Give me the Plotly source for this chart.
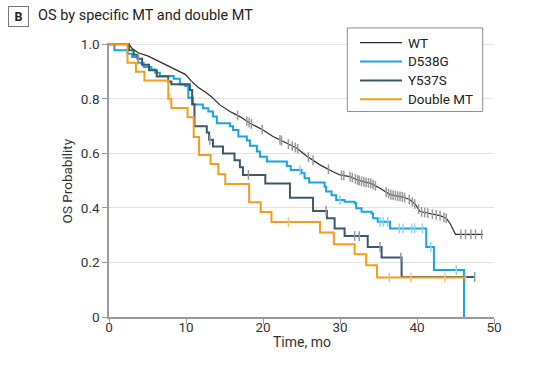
import numpy as np
import plotly.graph_objects as go

# ---------------- data ----------------
series_names = ["WT", "D538G", "Y537S", "Double MT"]

# WT: large cohort, many tiny steps -> drawn as a polyline through read points
wt_time = [0, 2.6, 3.0, 3.8, 5.1, 6.4, 7.7, 8.6, 9.9, 10.7, 11.6, 12.5, 13.3, 14.4, 15.7,
           17.0, 18.3, 20.0, 21.3, 23.1, 24.4, 25.7, 27.4, 29.1, 30.0, 31.3, 32.5, 34.0,
           35.2, 36.5, 38.2, 39.1, 39.8, 40.4, 41.5, 43.0, 43.8, 44.3, 44.7, 45.0, 48.6]
wt_surv = [1.0, 1.0, 0.985, 0.969, 0.957, 0.939, 0.92, 0.908, 0.89, 0.865, 0.842, 0.825,
           0.808, 0.778, 0.754, 0.735, 0.711, 0.686, 0.662, 0.637, 0.619, 0.59, 0.558,
           0.533, 0.521, 0.515, 0.50, 0.49, 0.472, 0.449, 0.44, 0.43, 0.412, 0.387, 0.38,
           0.372, 0.362, 0.343, 0.32, 0.303, 0.303]
wt_censor = [16.7, 17.9, 18.2, 18.5, 19.9, 22.2, 22.4, 23.3, 23.8, 24.2, 24.5, 25.9, 26.5,
             28.5, 30.2, 30.5, 31.3, 31.6, 32.0, 32.3, 32.5, 32.8, 33.1, 33.4, 33.7, 34.0,
             34.3, 34.6, 36.0, 36.3, 36.6, 36.9, 37.2, 37.5, 37.8, 38.1, 38.4, 39.0, 39.4,
             39.7, 40.2, 40.6, 41.0, 41.4, 42.0, 42.5, 43.0, 43.5, 43.8, 45.7, 46.3, 47.0,
             47.6, 48.4]

d538g_time = [0, 0.7, 2.4, 3.0, 3.8, 4.5, 5.5, 6.0, 6.6, 8.4, 9.2, 9.9, 10.3, 10.9, 12.2,
              12.9, 13.5, 14.0, 15.7, 16.1, 16.8, 17.9, 18.3, 19.2, 19.6, 20.5, 23.1, 23.6,
              25.0, 25.4, 26.0, 28.0, 28.2, 28.9, 29.5, 30.6, 31.9, 32.1, 32.8, 34.1, 34.3,
              34.9, 36.5, 41.2, 42.2, 46.1]
d538g_surv = [1.0, 0.978, 0.966, 0.954, 0.933, 0.917, 0.908, 0.896, 0.884, 0.874, 0.853,
              0.847, 0.804, 0.779, 0.766, 0.754, 0.735, 0.711, 0.70, 0.686, 0.662, 0.647,
              0.628, 0.607, 0.588, 0.57, 0.554, 0.539, 0.527, 0.509, 0.493, 0.478, 0.46,
              0.447, 0.429, 0.423, 0.417, 0.399, 0.386, 0.38, 0.362, 0.349, 0.325, 0.257,
              0.172, 0.0]
d538g_censor = [24.8, 30.0, 35.2, 35.6, 36.2, 37.7, 38.2, 39.3, 39.7, 40.7, 41.8, 45.1]

y537s_time = [0, 2.6, 3.2, 3.7, 4.3, 5.2, 6.2, 7.7, 8.1, 10.5, 10.8, 11.1, 12.7, 13.0,
              13.5, 14.8, 16.3, 17.0, 17.4, 20.3, 23.5, 26.5, 28.3, 29.3, 30.6, 33.6, 35.4,
              38.0, 47.5]
y537s_surv = [1.0, 0.978, 0.962, 0.947, 0.925, 0.905, 0.882, 0.864, 0.854, 0.833, 0.78,
              0.70, 0.677, 0.65, 0.625, 0.60, 0.575, 0.549, 0.521, 0.49, 0.4375, 0.389,
              0.362, 0.325, 0.297, 0.257, 0.218, 0.147, 0.147]
y537s_censor = [3.8, 13.1, 18.1, 28.2, 31.9, 32.5, 35.2, 37.9, 47.5]

double_time = [0, 2.4, 3.5, 4.6, 7.7, 8.1, 10.2, 11.0, 11.7, 13.2, 14.2, 15.1, 18.2, 19.7,
               21.1, 27.4, 29.2, 31.9, 33.4, 34.8, 46.3]
double_surv = [1.0, 0.933, 0.90, 0.867, 0.80, 0.767, 0.733, 0.66, 0.594, 0.561, 0.524,
               0.488, 0.421, 0.385, 0.348, 0.31, 0.267, 0.23, 0.19, 0.145, 0.145]
double_censor = [7.9, 23.3, 36.4, 39.2, 43.6, 46.3]

x_ticks = [0, 10, 20, 30, 40, 50]
y_ticks = [0, 0.2, 0.4, 0.6, 0.8, 1.0]
y_tick_labels = ["0", "0.2", "0.4", "0.6", "0.8", "1.0"]

# ---------------- styling ----------------
line_colors = ["#2b2b2b", "#1aa3e0", "#3d5868", "#f59c1a"]
censor_colors = ["#9a9a9a", "#8fd3f2", "#8c9ca7", "#f7c37a"]
line_widths = [1.2, 2.0, 2.0, 2.0]
FONT = "Roboto, Liberation Sans, Arial, sans-serif"


def step_value(times, surv, t):
    i = np.searchsorted(np.asarray(times), t, side="right") - 1
    return np.asarray(surv)[i]


fig = go.Figure()

curves = [
    (wt_time, wt_surv, wt_censor, "linear"),
    (d538g_time, d538g_surv, d538g_censor, "hv"),
    (y537s_time, y537s_surv, y537s_censor, "hv"),
    (double_time, double_surv, double_censor, "hv"),
]

for k, (tt, ss, cc, shape) in enumerate(curves):
    fig.add_trace(go.Scatter(
        x=tt, y=ss, mode="lines", name=series_names[k],
        line=dict(color=line_colors[k], width=line_widths[k], shape=shape),
        showlegend=False, hoverinfo="skip"))

for k, (tt, ss, cc, shape) in enumerate(curves):
    if shape == "linear":
        cy = np.interp(cc, tt, ss)
    else:
        cy = [step_value(tt, ss, c) for c in cc]
    fig.add_trace(go.Scatter(
        x=cc, y=cy, mode="markers", showlegend=False, hoverinfo="skip",
        marker=dict(symbol="line-ns-open", size=7, color=censor_colors[k],
                    line=dict(color=censor_colors[k], width=1.5)),
        cliponaxis=False))

# ---------------- layout ----------------
L, R, T, B = 109, 50, 43.3, 48.3
W, H = 544, 365
pw, ph = W - L - R, H - T - B


def px_x(px):
    return (px - L) / pw


def px_y(py):
    return (H - B - py) / ph


fig.update_layout(
    width=W, height=H,
    margin=dict(l=L, r=R, t=T, b=B, pad=0, autoexpand=False),
    plot_bgcolor="white", paper_bgcolor="white",
    font=dict(family=FONT, size=13, color="#333333"),
    xaxis=dict(range=[0, 50], tickvals=x_ticks, ticks="outside", ticklen=5,
               tickcolor="#9a9a9a", tickwidth=1.2, showline=True, linecolor="#9a9a9a",
               linewidth=1.5, showgrid=False, zeroline=False, ticklabelstandoff=-8,
               tickfont=dict(size=13.5, color="#333333")),
    yaxis=dict(range=[0, 1.005], tickvals=y_ticks, ticktext=y_tick_labels,
               ticks="outside", ticklen=5, tickcolor="#9a9a9a", tickwidth=1.2,
               showline=True, linecolor="#9a9a9a", linewidth=1.5,
               showgrid=True, gridcolor="#e4e4e4", gridwidth=1, zeroline=False,
               tickfont=dict(size=13.5, color="#333333")),
    showlegend=False,
)

# ---- legend box drawn in paper coordinates ----
leg_left, leg_right, leg_top, leg_bottom = 347.3, 482.7, 28.3, 111.7
row_y = [42.9, 61.7, 80.6, 99.4]
fig.add_shape(type="rect", xref="paper", yref="paper",
              x0=px_x(leg_left), x1=px_x(leg_right), y0=px_y(leg_bottom), y1=px_y(leg_top),
              line=dict(color="#8a8a8a", width=1), fillcolor="white", layer="above")
for k, name in enumerate(series_names):
    fig.add_shape(type="line", xref="paper", yref="paper",
                  x0=px_x(360), x1=px_x(402), y0=px_y(row_y[k]), y1=px_y(row_y[k]),
                  line=dict(color=line_colors[k], width=line_widths[k]), layer="above")
    fig.add_annotation(text=name, xref="paper", yref="paper",
                       x=px_x(405.5), y=px_y(row_y[k]), xanchor="left", yanchor="middle",
                       showarrow=False, font=dict(size=13.5, color="#222222"))

fig.add_annotation(text="<b>B</b>", xref="paper", yref="paper",
                   x=px_x(18.8), y=px_y(17.3), xanchor="center", yanchor="middle",
                   showarrow=False, bordercolor="#777777", borderwidth=1,
                   width=17, height=17, font=dict(size=12.5, color="#222222"))
fig.add_annotation(text="OS by specific MT and double MT", xref="paper", yref="paper",
                   x=px_x(35.5), y=px_y(16.0), xanchor="left", yanchor="middle",
                   showarrow=False, font=dict(size=14.5, color="#222222"))
fig.add_annotation(text="Time, mo", xref="paper", yref="paper",
                   x=px_x(301.7), y=px_y(342), xanchor="center", yanchor="middle",
                   showarrow=False, font=dict(size=14, color="#333333"))
fig.add_annotation(text="OS Probability", xref="paper", yref="paper",
                   x=px_x(66.7), y=px_y(180.7), xanchor="center", yanchor="middle",
                   textangle=-90, showarrow=False, font=dict(size=13.5, color="#333333"))

fig.write_html("out.html", config={"displayModeBar": False},
               post_script="document.body.style.margin='0px';")
